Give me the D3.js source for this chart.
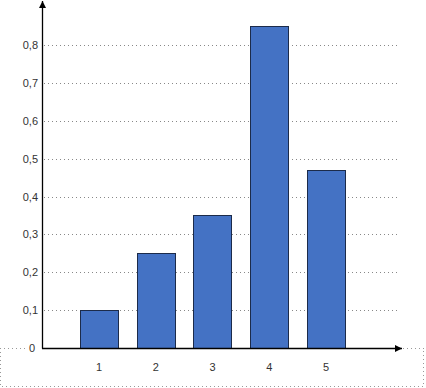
<!DOCTYPE html>
<html>
<head>
<meta charset="utf-8">
<script src="https://cdn.jsdelivr.net/npm/d3@7"></script>
<style>
  body { margin: 0; background: #fff; }
  text { font-family: "Liberation Sans", Arial, sans-serif; font-size: 11px; fill: #333; }
</style>
</head>
<body>
<div id="chart"></div>
<script>
// data
categories = ["1", "2", "3", "4", "5"]
values = [0.10, 0.25, 0.35, 0.85, 0.47]
yTicks = [0, 0.1, 0.2, 0.3, 0.4, 0.5, 0.6, 0.7, 0.8]

width = 426
height = 388
axisX = 42
zeroY = 348

x = d3.scaleBand().domain(categories).range([80, 345]).paddingInner(0.33).paddingOuter(0)
y = d3.scaleLinear().domain([0, 0.8]).range([zeroY, 45])

svg = d3.select("#chart").append("svg")
  .attr("width", width)
  .attr("height", height)

defs = svg.append("defs")
defs.append("marker")
  .attr("id", "arrow")
  .attr("viewBox", "0 0 10 10")
  .attr("refX", 10).attr("refY", 5)
  .attr("markerWidth", 10).attr("markerHeight", 7)
  .attr("markerUnits", "userSpaceOnUse")
  .attr("orient", "auto")
  .append("path").attr("d", "M0,0 L10,5 L0,10 z").attr("fill", "#000")

// dotted frame below the plot
svg.append("path")
  .attr("d", "M0.5," + zeroY + " V386.5 H423.5 V" + zeroY)
  .attr("fill", "none")
  .attr("stroke", "#999")
  .attr("stroke-dasharray", "1,3")
svg.append("line")
  .attr("x1", 0).attr("x2", 25).attr("y1", zeroY + 0.5).attr("y2", zeroY + 0.5)
  .attr("stroke", "#999").attr("stroke-dasharray", "1,3")
svg.append("line")
  .attr("x1", 403).attr("x2", 426).attr("y1", zeroY + 0.5).attr("y2", zeroY + 0.5)
  .attr("stroke", "#999").attr("stroke-dasharray", "1,3")

// grid
svg.selectAll(".grid")
  .data(yTicks.filter(function(d) { return d > 0 }))
  .enter().append("line")
  .attr("class", "grid")
  .attr("x1", axisX + 2).attr("x2", 398)
  .attr("y1", function(d) { return Math.round(y(d)) + 0.5 })
  .attr("y2", function(d) { return Math.round(y(d)) + 0.5 })
  .attr("stroke", "#888")
  .attr("stroke-dasharray", "1,3")

// bars
svg.selectAll(".bar")
  .data(values)
  .enter().append("rect")
  .attr("class", "bar")
  .attr("x", function(d, i) { return Math.round(x(categories[i])) + 0.5 })
  .attr("y", function(d) { return Math.round(y(d)) + 0.5 })
  .attr("width", Math.round(x.bandwidth()))
  .attr("height", function(d) { return Math.round(zeroY - y(d)) })
  .attr("fill", "#4472C4")
  .attr("stroke", "#1c2b4a")
  .attr("stroke-width", 1)

// axes
svg.append("line")
  .attr("x1", axisX + 0.5).attr("x2", axisX + 0.5)
  .attr("y1", zeroY + 0.5).attr("y2", 1)
  .attr("stroke", "#000").attr("stroke-width", 1.3)
  .attr("marker-end", "url(#arrow)")
svg.append("line")
  .attr("x1", axisX).attr("x2", 402)
  .attr("y1", zeroY + 0.5).attr("y2", zeroY + 0.5)
  .attr("stroke", "#000").attr("stroke-width", 1.3)
  .attr("marker-end", "url(#arrow)")

// tick labels
fmt = function(d) { return d === 0 ? "0" : d3.format(".1f")(d).replace(".", ",") }
svg.selectAll(".ylab")
  .data(yTicks)
  .enter().append("text")
  .attr("class", "ylab")
  .attr("x", function(d) { return d === 0 ? 35 : 38 })
  .attr("y", function(d) { return y(d) + 4 })
  .attr("text-anchor", "end")
  .text(fmt)

svg.selectAll(".xlab")
  .data(categories)
  .enter().append("text")
  .attr("class", "xlab")
  .attr("x", function(d) { return x(d) + x.bandwidth() / 2 })
  .attr("y", 371)
  .attr("text-anchor", "middle")
  .text(function(d) { return d })
</script>
</body>
</html>
